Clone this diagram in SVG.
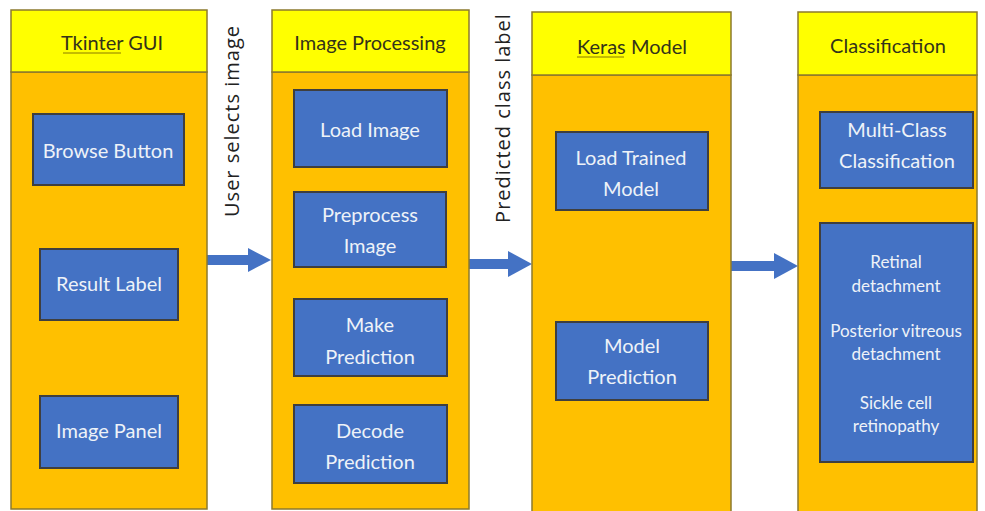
<svg xmlns="http://www.w3.org/2000/svg" width="985" height="511" viewBox="0 0 985 511">
<style>
.col{fill:#FFC000;stroke:#8C7A2E;stroke-width:1.5}
.hdr{fill:#FFFF00;stroke:#8C7A2E;stroke-width:1.5}
.box{fill:#4472C4;stroke:#3F3F3F;stroke-width:2}
.arr{fill:#4472C4}
.ht{font-family:Lato,"Liberation Sans",sans-serif;font-size:20px;fill:#33331a;text-anchor:middle}
.bt{font-family:Lato,"Liberation Sans",sans-serif;font-size:20px;fill:#EEF2F8;text-anchor:middle}
.st{font-family:Lato,"Liberation Sans",sans-serif;font-size:17px;fill:#EEF2F8;text-anchor:middle}
.lt{font-family:"Open Sans","DejaVu Sans",sans-serif;font-size:20px;letter-spacing:1px;fill:#222;text-anchor:middle}
.ul{stroke:#8a7a00;stroke-width:1}
</style>
<rect width="985" height="511" fill="#FFFFFF"/>
<g id="connectors">
<path d="M207,260 H250" stroke="#4472C4" stroke-width="10"/>
<path class="arr" d="M248,248 L271,260 L248,272 z"/>
<path d="M469,264 H510" stroke="#4472C4" stroke-width="10"/>
<path class="arr" d="M508,251 L532,264 L508,277 z"/>
<path d="M731,266 H776" stroke="#4472C4" stroke-width="10"/>
<path class="arr" d="M774,253 L798,266 L774,279 z"/>
<text class="lt" transform="translate(239,121) rotate(-90)">User selects image</text>
<text class="lt" transform="translate(510,118) rotate(-90)">Predicted class label</text>
</g>
<g id="col-tkinter">
<rect class="col" x="11" y="72" width="196" height="437"/>
<rect class="hdr" x="11" y="10" width="196" height="62"/>
<text class="ht" x="112" y="50">Tkinter GUI</text>
<line class="ul" x1="63" y1="53" x2="121" y2="53"/>
</g>
<g id="browse-button">
<rect class="box" x="33" y="114" width="151" height="71"/>
<text class="bt" x="108" y="158">Browse Button</text>
</g>
<g id="result-label">
<rect class="box" x="40" y="249" width="138" height="71"/>
<text class="bt" x="109" y="291">Result Label</text>
</g>
<g id="image-panel">
<rect class="box" x="40" y="396" width="138" height="72"/>
<text class="bt" x="109" y="438">Image Panel</text>
</g>
<g id="col-processing">
<rect class="col" x="272" y="72" width="197" height="437"/>
<rect class="hdr" x="272" y="10" width="197" height="62"/>
<text class="ht" x="370" y="50">Image Processing</text>
</g>
<g id="load-image">
<rect class="box" x="294" y="90" width="153" height="77"/>
<text class="bt" x="370" y="137">Load Image</text>
</g>
<g id="preprocess-image">
<rect class="box" x="294" y="192" width="152" height="75"/>
<text class="bt" x="370" y="222">Preprocess</text>
<text class="bt" x="370" y="253">Image</text>
</g>
<g id="make-prediction">
<rect class="box" x="294" y="299" width="153" height="77"/>
<text class="bt" x="370" y="332">Make</text>
<text class="bt" x="370" y="364">Prediction</text>
</g>
<g id="decode-prediction">
<rect class="box" x="294" y="405" width="153" height="78"/>
<text class="bt" x="370" y="438">Decode</text>
<text class="bt" x="370" y="469">Prediction</text>
</g>
<g id="col-keras">
<rect class="col" x="532" y="75" width="199" height="440"/>
<rect class="hdr" x="532" y="12" width="199" height="63"/>
<text class="ht" x="632" y="54">Keras Model</text>
<line class="ul" x1="577" y1="57" x2="624" y2="57"/>
</g>
<g id="load-trained-model">
<rect class="box" x="556" y="132" width="152" height="78"/>
<text class="bt" x="631" y="165">Load Trained</text>
<text class="bt" x="631" y="196">Model</text>
</g>
<g id="model-prediction">
<rect class="box" x="556" y="322" width="152" height="78"/>
<text class="bt" x="632" y="353">Model</text>
<text class="bt" x="632" y="384">Prediction</text>
</g>
<g id="col-classification">
<rect class="col" x="798" y="75" width="179" height="440"/>
<rect class="hdr" x="798" y="12" width="179" height="63"/>
<text class="ht" x="888" y="53">Classification</text>
</g>
<g id="multi-class">
<rect class="box" x="820" y="112" width="153" height="76"/>
<text class="bt" x="897" y="137">Multi-Class</text>
<text class="bt" x="897" y="168">Classification</text>
</g>
<g id="classes">
<rect class="box" x="820" y="223" width="153" height="239"/>
<text class="st" x="896" y="268">Retinal</text>
<text class="st" x="896" y="292">detachment</text>
<text class="st" x="896" y="337">Posterior vitreous</text>
<text class="st" x="896" y="360">detachment</text>
<text class="st" x="896" y="409">Sickle cell</text>
<text class="st" x="896" y="432">retinopathy</text>
</g>
</svg>
